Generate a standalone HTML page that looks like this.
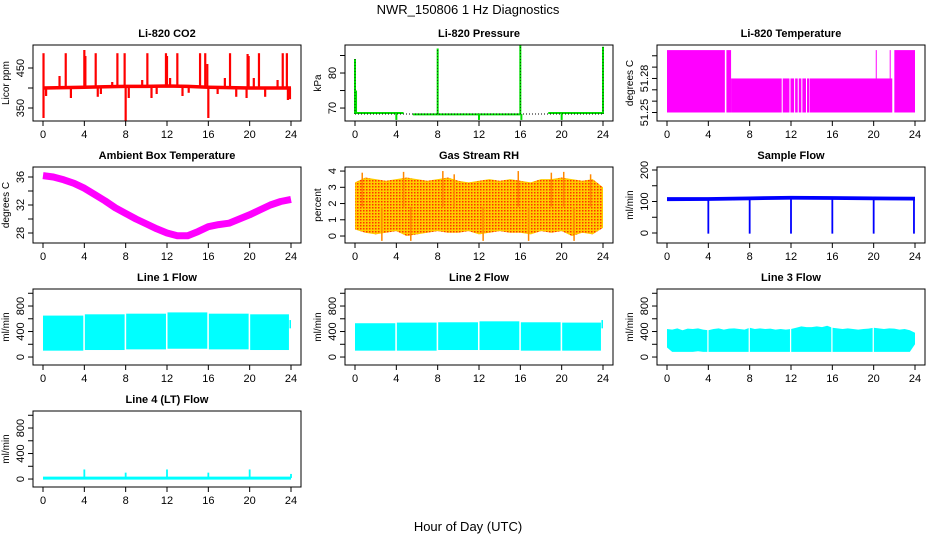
<!DOCTYPE html>
<html><head><meta charset="utf-8"><style>
body{margin:0;background:#fff}
svg{display:block;font-family:"Liberation Sans",Arial,sans-serif}
</style></head><body>
<svg id="c" width="936" height="540" viewBox="0 0 936 540">
<defs>
<pattern id="rhp" width="3" height="3" patternUnits="userSpaceOnUse"><rect width="3" height="3" fill="#ffcc00"/><rect width="1.5" height="1.5" fill="#ff3300"/></pattern>
</defs>
<text x="468" y="14" text-anchor="middle" font-size="13">NWR_150806  1 Hz Diagnostics</text>
<text x="468" y="531" text-anchor="middle" font-size="13">Hour of Day (UTC)</text>
</svg>
<script>
// ---- data ----
const xTicks=[0,4,8,12,16,20,24];
const co2Hours=[0,2,4,6,8,10,12,14,16,18,20,22,24];
const co2Base=[400,401,402,403,404,404,405,404,402,401,400,400,400];
const co2SpikeT=[0.05,2.2,4.0,4.1,5.1,7.2,7.9,10.1,11.9,12.0,13.0,15.2,15.7,15.9,18.1,19.8,19.9,20.9,23.2,23.6,1.6,6.7,9.6,12.3,17.6,20.4,22.7,0.05,8.0,16.0,0.3,2.7,5.3,5.6,8.3,10.5,11.0,13.5,14.1,16.9,18.7,19.7,21.5,23.9,23.7];
const co2SpikeV=[487,487,495,480,487,487,487,487,487,480,487,487,487,460,487,485,480,487,487,487,430,415,420,425,425,425,420,325,318,325,380,375,378,385,375,375,385,380,388,385,378,375,378,372,370];
const presSegStart=[0,5.6,18.7];
const presSegEnd=[4.7,16.0,24];
const presSegV=[68.6,68.2,68.6];
const presSpikeT=[0,8,16,24,0.1,4,12,16.1,20];
const presSpikeV=[84,87,88,87.5,75,66.6,66.6,66.6,66.6];
const tempSegStart=[0,5.75,6.2,13.8,22.0];
const tempSegEnd=[5.6,6.2,11.1,21.8,24];
const tempSegTop=[51.305,51.305,51.28,51.28,51.305];
const tempInnerStart=[11.2,11.95,12.4,12.75,13.1,13.55];
const tempInnerEnd=[11.85,12.3,12.65,13.0,13.45,13.75];
const tempThinT=[20.25,21.6];
const ambHours=[0,1,2,3,4,5,6,7,8,9,10,11,12,13,14,15,16,17,18,19,20,21,22,23,24];
const ambTemp=[36.2,36.0,35.6,35.1,34.4,33.5,32.6,31.6,30.8,30.0,29.3,28.6,28.0,27.6,27.6,28.2,28.9,29.2,29.4,30.0,30.6,31.3,32.0,32.5,32.8];
const rhHours=[0,1,2,3,4,5,6,7,8,9,10,11,12,13,14,15,16,17,18,19,20,21,22,23,24];
const rhHigh=[3.3,3.6,3.5,3.4,3.5,3.6,3.5,3.4,3.5,3.6,3.4,3.3,3.4,3.5,3.4,3.5,3.4,3.3,3.5,3.5,3.6,3.5,3.4,3.5,3.0];
const rhLow=[0.4,0.2,0.1,0.2,0.3,0.0,0.1,0.2,0.3,0.2,0.2,0.3,0.1,0.2,0.3,0.2,0.2,0.1,0.3,0.2,0.3,0.0,0.2,0.1,0.5];
const rhSpikeT=[0.7,2.6,4.7,5.4,8.5,9.6,12.4,15.8,16.8,19.0,20.2,21.2,22.8];
const rhSpikeV=[3.9,-0.3,3.95,-0.3,4.0,3.8,-0.3,4.0,-0.3,3.9,3.95,-0.3,3.8];
const sfHours=[0,4,8,12,16,20,24];
const sfHigh=[114,114,116,118,117,116,115];
const sfLow=[101,102,104,106,105,104,103];
const sfDropT=[4,8,12,16,20,23.9];
const flowSegStart=[0,4.05,8.05,12.05,16.05,20.05];
const flowSegEnd=[3.9,7.9,11.9,15.9,19.9,23.8];
const line1Top=[650,670,680,700,680,670];
const line1Low=[100,110,120,130,120,110];
const line2Top=[530,540,545,560,545,540];
const line2Low=[100,100,110,110,100,100];
const line3Hours=[0,0.5,1,1.5,2,2.5,3,3.5,4,4.5,5,5.5,6,6.5,7,7.5,8,8.5,9,9.5,10,10.5,11,11.5,12,12.5,13,13.5,14,14.5,15,15.5,16,16.5,17,17.5,18,18.5,19,19.5,20,20.5,21,21.5,22,22.5,23,23.5,24];
const line3Top=[440,430,450,420,445,440,450,430,420,440,450,430,445,450,440,430,460,440,450,440,445,430,440,430,440,460,480,470,470,480,470,490,460,450,440,450,440,430,440,445,460,450,440,450,445,430,440,420,380];
const line3Low=[150,80,80,80,80,80,90,80,80,80,80,80,80,80,80,80,80,80,80,80,80,80,80,80,80,80,80,80,80,80,80,80,80,80,80,80,80,80,80,80,80,80,80,80,80,80,80,80,200];
const l4SpikeT=[4,8,12,16,20,24];
const l4SpikeV=[150,100,150,100,150,80];

// ---- layout ----
const svg=document.getElementById('c');
const NS='http://www.w3.org/2000/svg';
const colL=[33,345,657], rowT=[45,167,289,411], BW=268, BH=76;
function mk(tag,attrs,parent){const e=document.createElementNS(NS,tag);for(const k in attrs)e.setAttribute(k,attrs[k]);(parent||svg).appendChild(e);return e;}
function panel(col,row,title,ylab,ymin,ymax,yticks,ylabels,name){
  const L=colL[col],T=rowT[row];
  const g=mk('g',{});
  
  
  const p={g,L,T,
    x:h=>L+10+h/24*248,
    y:v=>T+BH-(v-ymin)/(ymax-ymin)*BH};
  const t=mk('text',{x:L+BW/2,y:T-8,'text-anchor':'middle','font-size':11,'font-weight':'bold'},g);
  t.textContent=title;
  
  
  p.plot=mk('g',{},g);
  
  
  const box=mk('rect',{x:L,y:T,width:BW,height:BH,fill:'none',stroke:'#000','stroke-width':1},g);
  
  
  const xa=mk('g',{'font-size':11},g);
  
  
  xTicks.forEach(h=>{const X=p.x(h);
    mk('line',{x1:X,x2:X,y1:T+BH,y2:T+BH+5,stroke:'#000'},xa);
    const tl=mk('text',{x:X,y:T+BH+17,'text-anchor':'middle'},xa);tl.textContent=h;});
  const ya=mk('g',{'font-size':11},g);
  
  
  yticks.forEach(v=>{const Y=p.y(v);
    mk('line',{x1:L-5,x2:L,y1:Y,y2:Y,stroke:'#000'},ya);});
  ylabels.forEach(v=>{const Y=p.y(v);
    const tl=mk('text',{x:L-9,y:Y,'text-anchor':'middle',transform:`rotate(-90 ${L-9} ${Y})`},ya);tl.textContent=v;});
  const yt=mk('text',{x:L-24,y:T+BH/2,'text-anchor':'middle','font-size':10,transform:`rotate(-90 ${L-24} ${T+BH/2})`},g);
  yt.textContent=ylab;
  
  
  return p;
}
function vline(p,h,v1,v2,col,w){return mk('line',{x1:p.x(h),x2:p.x(h),y1:p.y(v1),y2:p.y(v2),stroke:col,'stroke-width':w||1.5},p.plot);}
function band(p,hs,hi,lo,fill){
  let d='M'+hs.map((h,i)=>p.x(h)+','+p.y(hi[i])).join('L');
  for(let i=hs.length-1;i>=0;i--)d+='L'+p.x(hs[i])+','+p.y(lo[i]);
  return mk('path',{d:d+'Z',fill:fill},p.plot);
}
function rectSeg(p,h1,h2,vTop,vBot,fill){return mk('rect',{x:p.x(h1),y:p.y(vTop),width:p.x(h2)-p.x(h1),height:p.y(vBot)-p.y(vTop),fill:fill},p.plot);}

// CO2
let p=panel(0,0,'Li-820 CO2','Licor ppm',317.5,507.5,[350,400,450],[350,450],'co2');
co2SpikeT.forEach((h,i)=>{const b=co2Base[Math.min(co2Base.length-1,Math.round(h/2))];vline(p,h,b,co2SpikeV[i],'#ff0000',2.2);});
mk('polyline',{points:co2Hours.map((h,i)=>p.x(h)+','+p.y(co2Base[i])).join(' '),fill:'none',stroke:'#ff0000','stroke-width':3.5},p.plot);

// Pressure
p=panel(1,0,'Li-820 Pressure','kPa',66.3,88,[70,75,80,85],[70,80],'pressure');
presSegStart.forEach((s,i)=>mk('line',{x1:p.x(s),x2:p.x(presSegEnd[i]),y1:p.y(presSegV[i]),y2:p.y(presSegV[i]),stroke:'#00dd00','stroke-width':2},p.plot));
mk('line',{x1:p.x(0),x2:p.x(24),y1:p.y(68.3),y2:p.y(68.3),stroke:'#000','stroke-width':1,'stroke-dasharray':'1 2'},p.plot);
presSpikeT.forEach((h,i)=>{vline(p,h,68.3,presSpikeV[i],'#00dd00',2);});
presSpikeT.slice(0,4).forEach((h,i)=>{vline(p,h,68.3,presSpikeV[i],'#003300',0.8).setAttribute('stroke-dasharray','1 2');});

// Temperature
p=panel(2,0,'Li-820 Temperature','degrees C',51.2425,51.3095,[51.25,51.26,51.27,51.28,51.29,51.30],[51.25,51.28],'li820-temperature');
tempSegStart.forEach((s,i)=>rectSeg(p,s,tempSegEnd[i],tempSegTop[i],51.25,'#ff00ff'));
tempInnerStart.forEach((s,i)=>rectSeg(p,s,tempInnerEnd[i],51.28,51.25,'#ff00ff'));
tempThinT.forEach(h=>vline(p,h,51.28,51.305,'#ff00ff',1));

// Ambient
p=panel(0,1,'Ambient Box Temperature','degrees C',26.57,37.43,[28,30,32,34,36],[28,32,36],'ambient-temperature');
mk('polyline',{points:ambHours.map((h,i)=>p.x(h)+','+p.y(ambTemp[i])).join(' '),fill:'none',stroke:'#ff00ff','stroke-width':7,'stroke-linejoin':'round'},p.plot);

// RH
p=panel(1,1,'Gas Stream RH','percent',-0.43,4.25,[0,1,2,3,4],[0,1,2,3,4],'gas-stream-rh');
band(p,rhHours,rhHigh,rhLow,'url(#rhp)');
rhSpikeT.forEach((h,i)=>vline(p,h,1.8,rhSpikeV[i],'#ff8800',1.5));

// Sample flow
p=panel(2,1,'Sample Flow','ml/min',-31.7,209.5,[0,50,100,150,200],[0,100,200],'sample-flow');
band(p,sfHours,sfHigh,sfLow,'#0000ff');
sfDropT.forEach(h=>vline(p,h,108,-2,'#0000ff',1.8));

// Line flows
function flowPanel(col,row,title,name,top,low){
  const q=panel(col,row,title,'ml/min',-125,1067,[0,200,400,600,800,1000],[0,400,800],name);
  flowSegStart.forEach((s,i)=>rectSeg(q,s,flowSegEnd[i],top[i],low[i],'#00ffff'));
  rectSeg(q,23.85,24,580,450,'#00ffff');
  return q;
}
flowPanel(0,2,'Line 1 Flow','line-1-flow',line1Top,line1Low);
flowPanel(1,2,'Line 2 Flow','line-2-flow',line2Top,line2Low);
p=panel(2,2,'Line 3 Flow','ml/min',-125,1067,[0,200,400,600,800,1000],[0,400,800],'line-3-flow');
band(p,line3Hours,line3Top,line3Low,'#00ffff');
flowSegEnd.slice(0,5).forEach(h=>rectSeg(p,h,h+0.12,500,60,'#ffffff'));

// Line 4
p=panel(0,3,'Line 4 (LT) Flow','ml/min',-125,1067,[0,200,400,600,800,1000],[0,400,800],'line-4-flow');
mk('line',{x1:p.x(0),x2:p.x(24),y1:p.y(15),y2:p.y(15),stroke:'#00ffff','stroke-width':3},p.plot);
l4SpikeT.forEach((h,i)=>vline(p,h,15,l4SpikeV[i],'#00ffff',1.8));
</script>
</body></html>
